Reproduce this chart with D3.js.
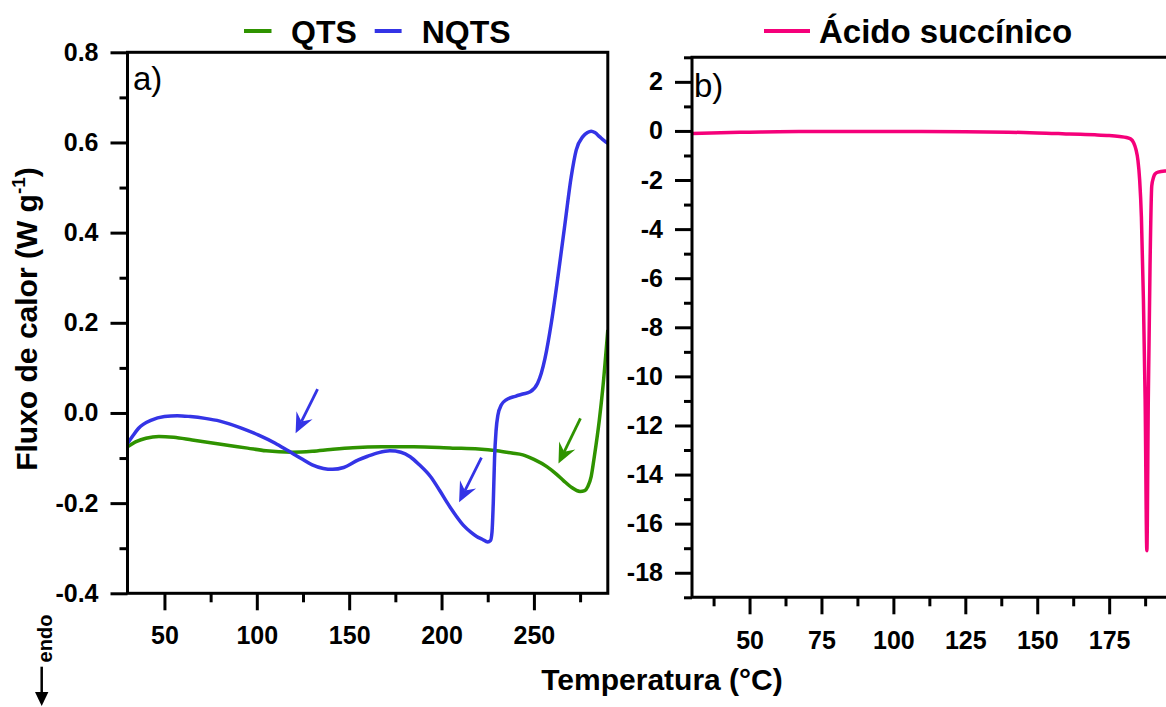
<!DOCTYPE html>
<html>
<head>
<meta charset="utf-8">
<title>DSC - QTS, NQTS, Acido succinico</title>
<script src="https://d3js.org/d3.v7.min.js"></script>
<style>
	body { margin: 0; background: #fff; }
	svg text { font-family: "Liberation Sans", Arial, sans-serif; fill: #000; }
	.tick text { font-size: 25px; font-weight: bold; }
	.tick line { stroke: #000; stroke-width: 3; }
	.frame { fill: none; stroke: #000; stroke-width: 3; }
	.curve { fill: none; stroke-width: 3.5; stroke-linejoin: round; }
</style>
</head>
<body>
<svg id="chart"></svg>
<script>
// panel a) QTS (green) and NQTS (blue), heat flow in W/g
var qtsTemp = [30, 35, 40, 47, 55, 65, 75, 85, 95, 105, 119, 130, 140, 152, 168, 185, 206, 220, 230, 238,
	244, 250, 257, 262, 266, 270, 275, 277.5, 279.2, 281, 282.7, 285.4, 287.2, 290];
var qtsFlux = [-0.075, -0.063, -0.056, -0.052, -0.054, -0.060, -0.066, -0.072, -0.078, -0.084, -0.087, -0.085, -0.081, -0.077, -0.075, -0.075, -0.078, -0.080, -0.084, -0.089,
	-0.093, -0.103, -0.119, -0.135, -0.150, -0.164, -0.174, -0.172, -0.163, -0.141, -0.097, -0.016, 0.051, 0.184];

var nqtsTemp = [30, 33, 36, 43, 50, 57, 64, 72, 80, 92, 101, 110, 117, 124, 130, 136, 141, 147, 155, 160, 166, 172,
	178, 183, 188, 194, 199, 204, 208, 212, 216, 219, 222, 225, 226.5, 227.3, 228, 228.7, 229.5, 230.5, 232.4, 235,
	240, 244, 248, 252, 254, 256, 259.4, 263, 266.6, 270.2, 272.9, 276.5, 279, 281, 283, 285.5, 288, 290];
var nqtsFlux = [-0.068, -0.050, -0.034, -0.016, -0.008, -0.006, -0.008, -0.012, -0.018, -0.034, -0.049, -0.067, -0.084, -0.101, -0.115, -0.123, -0.125, -0.121, -0.104, -0.096, -0.088, -0.084,
	-0.087, -0.097, -0.115, -0.141, -0.172, -0.205, -0.229, -0.250, -0.265, -0.274, -0.280, -0.286, -0.283, -0.265, -0.200, -0.100, -0.040, -0.005, 0.018, 0.029,
	0.037, 0.042, 0.047, 0.066, 0.088, 0.121, 0.199, 0.302, 0.413, 0.524, 0.583, 0.613, 0.622, 0.625, 0.622, 0.613, 0.604, 0.598];

// panel b) succinic acid
var acidTemp = [30, 40, 50, 60, 75, 100, 125, 140, 150, 155, 160, 165, 170, 175, 178.6, 181, 182.5, 183.5, 184.3, 185,
	185.6, 186.2, 186.9, 187.5, 188.1, 188.6, 189.2, 189.8, 190.4, 190.9, 192, 194.8, 200];
var acidFlux = [-0.10, -0.07, -0.05, -0.03, -0.02, -0.02, -0.03, -0.05, -0.08, -0.10, -0.12, -0.14, -0.16, -0.19, -0.23, -0.27, -0.33, -0.48, -0.75, -1.2,
	-2.0, -3.5, -6.86, -10.93, -17.1, -10.93, -5.5, -2.24, -1.9, -1.76, -1.68, -1.63, -1.6];

// annotation arrows (panel a, data units)
var arrowFrom = [[132.9, 0.053], [221.6, -0.099], [275.2, -0.012]];
var arrowTo = [[121, -0.045], [209.5, -0.198], [263.3, -0.112]];
var arrowSeries = ['NQTS', 'NQTS', 'QTS'];

// ticks
var aTempTicks = [50, 100, 150, 200, 250], aTempMinor = [75, 125, 175, 225, 275];
var aFluxTicks = [-0.4, -0.2, 0, 0.2, 0.4, 0.6, 0.8], aFluxMinor = [-0.3, -0.1, 0.1, 0.3, 0.5, 0.7];
var bTempTicks = [50, 75, 100, 125, 150, 175], bTempMinor = [37.5, 62.5, 87.5, 112.5, 137.5, 162.5, 187.5];
var bFluxTicks = [-18, -16, -14, -12, -10, -8, -6, -4, -2, 0, 2], bFluxMinor = [-19, -17, -15, -13, -11, -9, -7, -5, -3, -1, 1, 3];

var colors = { QTS: '#2f9300', NQTS: '#3434e6', acid: '#f5007a' };

var W = 1166, H = 707;
var svg = d3.select('#chart').attr('width', W).attr('height', H);

function zip(a, b) { return a.map(function (d, i) { return [d, b[i]]; }); }

function drawAxes(g, x, y, o) {
	var y0 = y.range()[0], x0 = x.range()[0];
	g.append('g').attr('transform', 'translate(0,' + y0 + ')')
		.call(d3.axisBottom(x).tickValues(o.xt).tickSize(17).tickPadding(o.xpad).tickFormat(d3.format('d')))
		.call(function (s) { s.select('.domain').remove(); });
	g.append('g').attr('transform', 'translate(0,' + y0 + ')')
		.call(d3.axisBottom(x).tickValues(o.xm).tickSize(9).tickFormat(''))
		.call(function (s) { s.select('.domain').remove(); });
	g.append('g').attr('transform', 'translate(' + x0 + ',0)')
		.call(d3.axisLeft(y).tickValues(o.yt).tickSize(17).tickPadding(12).tickFormat(o.yf))
		.call(function (s) { s.select('.domain').remove(); });
	g.append('g').attr('transform', 'translate(' + x0 + ',0)')
		.call(d3.axisLeft(y).tickValues(o.ym).tickSize(8).tickFormat(''))
		.call(function (s) { s.select('.domain').remove(); });
}

// ---------- panel a ----------
var xa = d3.scaleLinear([30, 290], [127.5, 607.8]);
var ya = d3.scaleLinear([-0.4, 0.8], [593.3, 52.3]);
var ga = svg.append('g');

svg.append('clipPath').attr('id', 'clipA').append('rect')
	.attr('x', 127.5).attr('y', 52.3).attr('width', 480.3).attr('height', 541);

var lineA = d3.line().x(function (d) { return xa(d[0]); }).y(function (d) { return ya(d[1]); }).curve(d3.curveMonotoneX);
ga.append('path').attr('class', 'curve').attr('clip-path', 'url(#clipA)')
	.attr('stroke', colors.QTS).attr('d', lineA(zip(qtsTemp, qtsFlux)));
ga.append('path').attr('class', 'curve').attr('clip-path', 'url(#clipA)')
	.attr('stroke', colors.NQTS).attr('d', lineA(zip(nqtsTemp, nqtsFlux)));

// arrows
arrowFrom.forEach(function (f, i) {
	var x1 = xa(f[0]), y1 = ya(f[1]), x2 = xa(arrowTo[i][0]), y2 = ya(arrowTo[i][1]);
	var ang = Math.atan2(y2 - y1, x2 - x1), c = colors[arrowSeries[i]];
	var L = 20, hw = 9, notch = 13;
	var ux = Math.cos(ang), uy = Math.sin(ang), px = -uy, py = ux;
	ga.append('line').attr('x1', x1).attr('y1', y1)
		.attr('x2', x2 - ux * notch).attr('y2', y2 - uy * notch)
		.attr('stroke', c).attr('stroke-width', 2.8);
	var pts = [[x2, y2], [x2 - ux * L + px * hw, y2 - uy * L + py * hw], [x2 - ux * notch, y2 - uy * notch],
		[x2 - ux * L - px * hw, y2 - uy * L - py * hw]];
	ga.append('path').attr('d', 'M' + pts.join('L') + 'Z').attr('fill', c);
});

drawAxes(ga, xa, ya, { xt: aTempTicks, xm: aTempMinor, xpad: 16, yt: aFluxTicks, ym: aFluxMinor,
	yf: function (d) { return d.toFixed(1); } });
ga.append('rect').attr('class', 'frame').attr('x', 127.5).attr('y', 52.3).attr('width', 480.3).attr('height', 541);
ga.append('text').attr('x', 133).attr('y', 90).style('font-size', '33px').text('a)');

// ---------- panel b ----------
var xb = d3.scaleLinear([30, 200], [692, 1181.1]);
var yb = d3.scaleLinear([-19, 3], [597.3, 57.3]);
var gb = svg.append('g');

svg.append('clipPath').attr('id', 'clipB').append('rect')
	.attr('x', 692).attr('y', 57.3).attr('width', 489).attr('height', 540);

var lineB = d3.line().x(function (d) { return xb(d[0]); }).y(function (d) { return yb(d[1]); }).curve(d3.curveMonotoneX);
gb.append('path').attr('class', 'curve').attr('clip-path', 'url(#clipB)')
	.attr('stroke', colors.acid).attr('d', lineB(zip(acidTemp, acidFlux)));

drawAxes(gb, xb, yb, { xt: bTempTicks, xm: bTempMinor, xpad: 17, yt: bFluxTicks, ym: bFluxMinor,
	yf: function (d) { return String(d); } });
gb.append('path').attr('class', 'frame').attr('d', 'M1190,57.3H692V597.3H1190');
gb.append('text').attr('x', 694).attr('y', 97).style('font-size', '33px').text('b)');

// ---------- legends ----------
var legend = [
	{ name: 'QTS', c: colors.QTS, x1: 244, x2: 271.5, tx: 291, fs: 32 },
	{ name: 'NQTS', c: colors.NQTS, x1: 374.7, x2: 401.6, tx: 421.7, fs: 32 },
	{ name: 'Ácido succínico', c: colors.acid, x1: 764, x2: 810, tx: 819, fs: 33 }
];
legend.forEach(function (l) {
	svg.append('line').attr('x1', l.x1).attr('x2', l.x2).attr('y1', 31).attr('y2', 31)
		.attr('stroke', l.c).attr('stroke-width', 4);
	svg.append('text').attr('x', l.tx).attr('y', 42.7)
		.style('font-size', l.fs + 'px').style('font-weight', 'bold').text(l.name);
});

// ---------- axis titles ----------
svg.append('text').attr('x', 662).attr('y', 690).attr('text-anchor', 'middle')
	.style('font-size', '30px').style('font-weight', 'bold').text('Temperatura (°C)');

var yt = svg.append('text').attr('transform', 'translate(37,319) rotate(-90)').attr('text-anchor', 'middle')
	.style('font-size', '30px').style('font-weight', 'bold');
yt.append('tspan').text('Fluxo de calor (W g');
yt.append('tspan').attr('dy', -12).style('font-size', '19px').text('-1');
yt.append('tspan').attr('dy', 12).text(')');

// endo marker
svg.append('text').attr('transform', 'translate(51.5,638.5) rotate(-90)').attr('text-anchor', 'middle')
	.style('font-size', '20px').style('font-weight', 'bold').text('endo');
svg.append('line').attr('x1', 41.7).attr('x2', 41.7).attr('y1', 666.7).attr('y2', 694)
	.attr('stroke', '#000').attr('stroke-width', 2.5);
svg.append('path').attr('d', 'M35,692L48.4,692L41.7,706Z').attr('fill', '#000');
</script>
</body>
</html>
